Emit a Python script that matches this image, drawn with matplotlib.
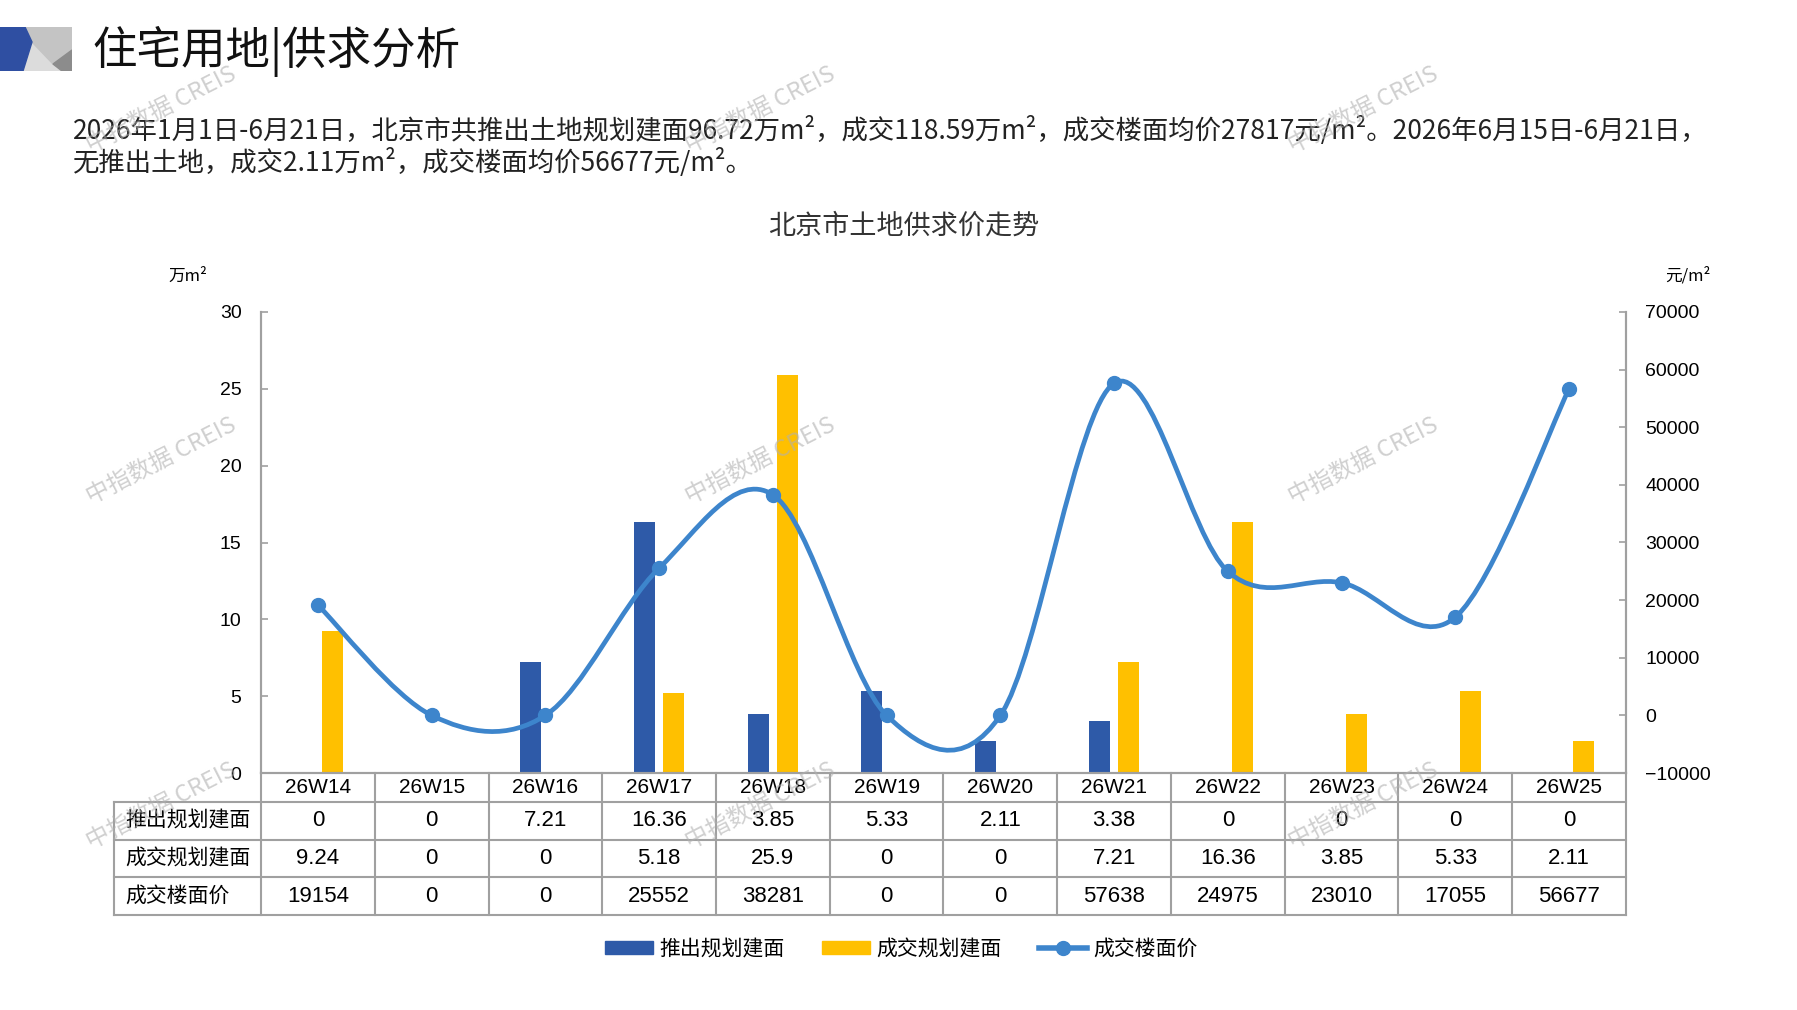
import numpy as np
import matplotlib.pyplot as plt
from matplotlib.path import Path
from matplotlib.patches import PathPatch, Patch, Polygon
from matplotlib.lines import Line2D

plt.rcParams['font.family'] = ['Noto Sans CJK SC', 'DejaVu Sans']

# data
weeks = ['26W14', '26W15', '26W16', '26W17', '26W18', '26W19',
         '26W20', '26W21', '26W22', '26W23', '26W24', '26W25']
supply = [0, 0, 7.21, 16.36, 3.85, 5.33, 2.11, 3.38, 0, 0, 0, 0]
deal = [9.24, 0, 0, 5.18, 25.9, 0, 0, 7.21, 16.36, 3.85, 5.33, 2.11]
price = [19154, 0, 0, 25552, 38281, 0, 0, 57638, 24975, 23010, 17055, 56677]
supply_txt = ['0', '0', '7.21', '16.36', '3.85', '5.33', '2.11', '3.38', '0', '0', '0', '0']
deal_txt = ['9.24', '0', '0', '5.18', '25.9', '0', '0', '7.21', '16.36', '3.85', '5.33', '2.11']
price_txt = [str(v) for v in price]
row_names = ['推出规划建面', '成交规划建面', '成交楼面价']
left_ticks = [0, 5, 10, 15, 20, 25, 30]
right_ticks = [-10000, 0, 10000, 20000, 30000, 40000, 50000, 60000, 70000]

title = '住宅用地|供求分析'
summary1 = '2026年1月1日-6月21日，北京市共推出土地规划建面96.72万m²，成交118.59万m²，成交楼面均价27817元/m²。2026年6月15日-6月21日，'
summary2 = '无推出土地，成交2.11万m²，成交楼面均价56677元/m²。'
chart_title = '北京市土地供求价走势'

BLUE = '#2E5AA8'
YELLOW = '#FFC000'
LINE = '#3D85CC'
GRID = '#a0a0a0'

W, H = 1797, 1010
fig = plt.figure(figsize=(W / 100, H / 100), dpi=100)


def fx(px):
    return px / W


def fy(py):
    return 1 - py / H


# header logo
logo = fig.add_axes([0, fy(71), fx(72), (71 - 27) / H])
logo.set_xlim(0, 72)
logo.set_ylim(71, 27)
logo.axis('off')
logo.add_patch(Polygon([(0, 27), (72, 27), (72, 71), (0, 71)], color='#dcdcdc'))
logo.add_patch(Polygon([(25, 27), (72, 27), (72, 50), (53, 64), (32, 42)], color='#c4c4c4'))
logo.add_patch(Polygon([(72, 50), (53, 64), (62, 71), (72, 71)], color='#8c8c8c'))
logo.add_patch(Polygon([(0, 27), (25, 27), (32, 42), (23, 71), (0, 71)], color='#2F4FA2'))

fig.text(fx(92), fy(51), title, fontsize=32, va='center', ha='left', color='#111111')
fig.text(fx(73), fy(130), summary1, fontsize=19, va='center', ha='left', color='#222222')
fig.text(fx(73), fy(162), summary2, fontsize=19, va='center', ha='left', color='#222222')
fig.text(fx(904), fy(226), chart_title, fontsize=19.5, va='center', ha='center', color='#333333')
fig.text(fx(207), fy(276), '万m²', fontsize=12, va='center', ha='right')
fig.text(fx(1665), fy(276), '元/m²', fontsize=12, va='center', ha='left')

# main chart
ax = fig.add_axes([fx(261), fy(773), (1626 - 261) / W, (773 - 312) / H])
ax2 = ax.twinx()
x = np.arange(len(weeks))
bw = 0.185
ax.bar(x - 0.13, supply, bw, color=BLUE, zorder=2)
ax.bar(x + 0.13, deal, bw, color=YELLOW, zorder=2)
ax.set_xlim(-0.5, len(weeks) - 0.5)
ax.set_ylim(0, 30)
ax.set_yticks(left_ticks)
ax.set_xticks([])
ax2.set_ylim(-10000, 70000)
ax2.set_yticks(right_ticks)

# smoothed price line (Excel-style Bezier through the points)
pts = list(zip(x.astype(float), price))
ext = [pts[0]] + pts + [pts[-1]]
verts = [pts[0]]
codes = [Path.MOVETO]
for i in range(1, len(ext) - 2):
    p0, p1, p2, p3 = (np.array(ext[i - 1]), np.array(ext[i]),
                      np.array(ext[i + 1]), np.array(ext[i + 2]))
    c1 = p1 + (p2 - p0) / 6
    c2 = p2 - (p3 - p1) / 6
    verts += [tuple(c1), tuple(c2), tuple(p2)]
    codes += [Path.CURVE4] * 3
ax2.add_patch(PathPatch(Path(verts, codes), facecolor='none', edgecolor=LINE,
                        lw=3.4, zorder=3, capstyle='round'))
ax2.plot(x, price, 'o', color=LINE, ms=10, zorder=4)

for a in (ax, ax2):
    for s in a.spines.values():
        s.set_color(GRID)
        s.set_linewidth(1.5)
    a.spines['top'].set_visible(False)
    a.tick_params(axis='y', direction='in', length=5, width=1.2, color=GRID,
                  labelsize=14, pad=14)
    for t in a.get_yticklabels():
        t.set_fontfamily(['Liberation Sans', 'DejaVu Sans'])
ax2.set_xticks([])

# data table below the axis
tab = fig.add_axes([fx(114), fy(915), (1626 - 114) / W, (915 - 773) / H])
x_left = -0.5 - (261 - 114) / ((1626 - 261) / len(weeks))
tab.set_xlim(x_left, len(weeks) - 0.5)
tab.set_ylim(142, 0)
tab.axis('off')
rows_y = [0, 29, 66.7, 104.3, 142]
for yy in rows_y[1:]:
    tab.plot([x_left, len(weeks) - 0.5], [yy, yy], color=GRID, lw=1.5, clip_on=False)
tab.plot([x_left, x_left], [29, 142], color=GRID, lw=1.5, clip_on=False)
for k in range(len(weeks) + 1):
    tab.plot([k - 0.5, k - 0.5], [0, 142], color=GRID, lw=1.5, clip_on=False)

num_font = ['Liberation Sans Narrow', 'Liberation Sans', 'Noto Sans CJK SC']
for i, w in enumerate(weeks):
    tab.text(i, 14.5, w, ha='center', va='center', fontsize=15, family=num_font)
for r, vals in enumerate([supply_txt, deal_txt, price_txt]):
    yc = (rows_y[r + 1] + rows_y[r + 2]) / 2
    tab.text(x_left + 0.1, yc, row_names[r], ha='left', va='center', fontsize=15)
    for i, v in enumerate(vals):
        tab.text(i, yc, v, ha='center', va='center', fontsize=16, family=num_font)

# legend
handles = [Patch(color=BLUE), Patch(color=YELLOW),
           Line2D([0], [0], color=LINE, lw=4, marker='o', ms=10)]
fig.legend(handles, row_names, loc='center', bbox_to_anchor=(fx(901), fy(949)),
           ncol=3, frameon=False, fontsize=15, handlelength=2.3, handleheight=0.6,
           columnspacing=1.8, handletextpad=0.3)

# watermark
for wx in (161, 760, 1363):
    for wy in (110, 461, 806):
        fig.text(fx(wx), fy(wy), '中指数据 CREIS', fontsize=17, color='#b0b0b0',
                 alpha=0.6, rotation=27, ha='center', va='center', zorder=10)

fig.savefig('out.png', dpi=100)
